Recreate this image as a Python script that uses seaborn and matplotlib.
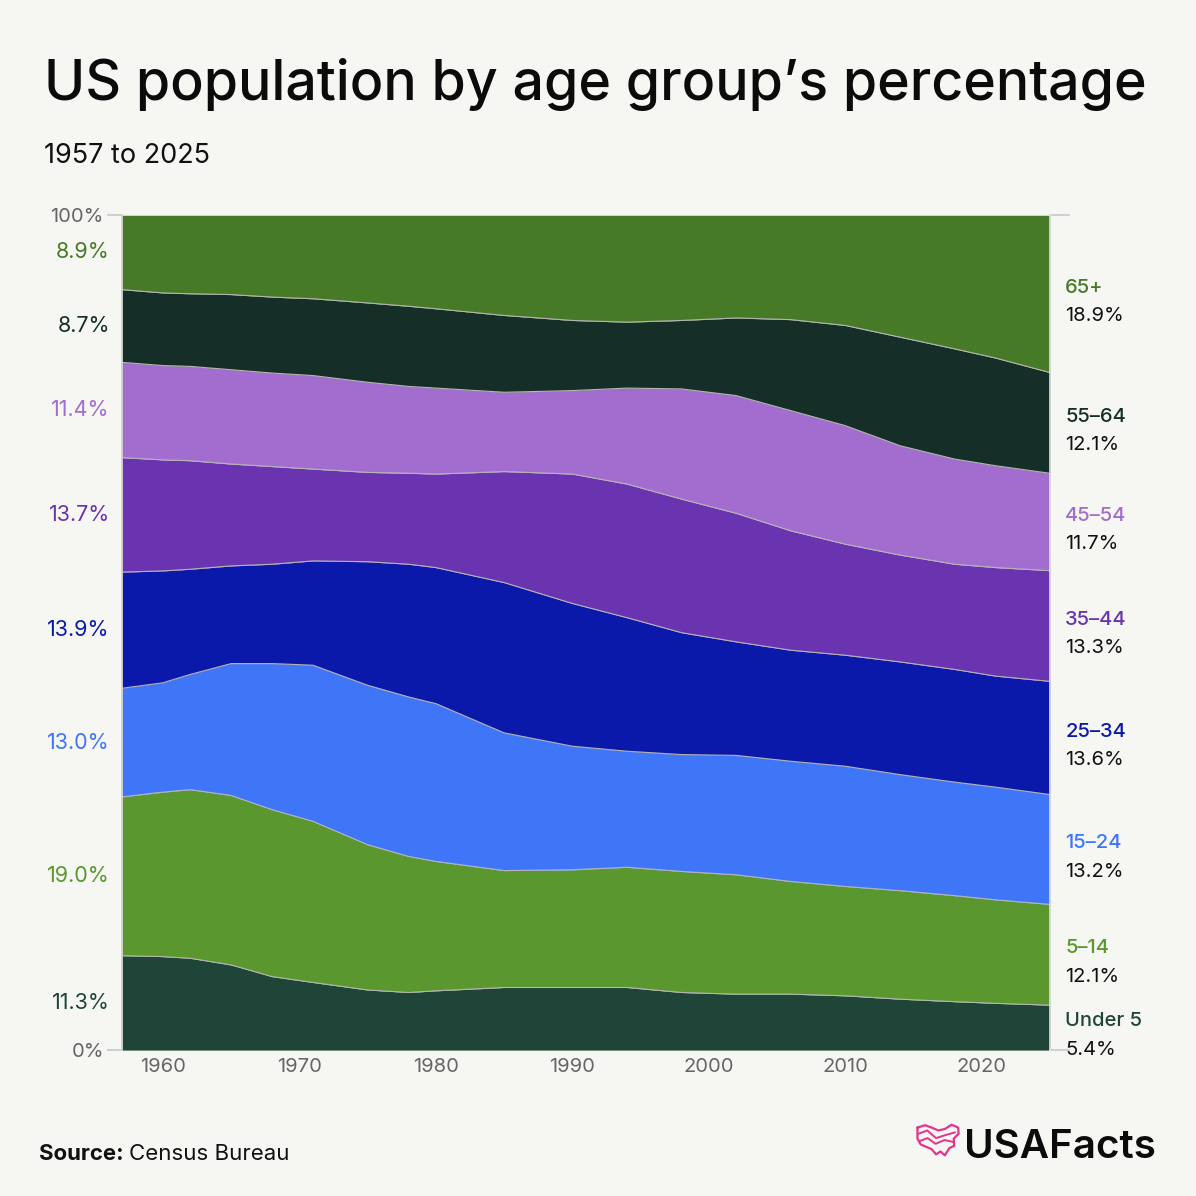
import matplotlib
matplotlib.use("Agg")
import numpy as np
import pandas as pd
import matplotlib.pyplot as plt
import seaborn as sns

# Data (% of population in each age group)
years = [1957, 1960, 1962, 1965, 1968, 1971, 1975, 1978, 1980, 1985,
         1990, 1994, 1998, 2002, 2006, 2010, 2014, 2018, 2021, 2025]

groups = ["Under 5", "5–14", "15–24", "25–34", "35–44", "45–54", "55–64", "65+"]

under_5 = [11.3, 11.2, 11.0, 10.2, 8.8, 8.1, 7.2, 6.9, 7.1, 7.5,
           7.5, 7.5, 6.9, 6.7, 6.7, 6.5, 6.1, 5.8, 5.6, 5.4]
age_5_14 = [19.0, 19.7, 20.2, 20.3, 20.0, 19.3, 17.4, 16.3, 15.5, 14.0,
            14.1, 14.4, 14.5, 14.3, 13.5, 13.1, 13.0, 12.7, 12.4, 12.1]
age_15_24 = [13.0, 13.1, 13.8, 15.8, 17.5, 18.7, 19.1, 19.1, 18.9, 16.5,
             14.8, 13.9, 14.0, 14.3, 14.4, 14.4, 13.9, 13.6, 13.5, 13.2]
age_25_34 = [13.9, 13.4, 12.6, 11.7, 11.9, 12.5, 14.8, 15.9, 16.3, 18.0,
             17.1, 16.0, 14.6, 13.6, 13.3, 13.3, 13.5, 13.5, 13.3, 13.6]
age_35_44 = [13.7, 13.3, 13.0, 12.2, 11.7, 11.0, 10.7, 10.9, 11.2, 13.3,
             15.5, 16.0, 16.0, 15.4, 14.3, 13.3, 12.8, 12.6, 13.0, 13.3]
age_45_54 = [11.4, 11.3, 11.3, 11.3, 11.2, 11.2, 10.8, 10.4, 10.3, 9.5,
             10.0, 11.5, 13.2, 14.1, 14.4, 14.2, 13.1, 12.6, 12.2, 11.7]
age_55_64 = [8.7, 8.7, 8.7, 9.0, 9.1, 9.2, 9.5, 9.6, 9.5, 9.2,
             8.4, 7.9, 8.2, 9.3, 10.9, 12.0, 13.0, 13.2, 12.9, 12.1]
age_65_plus = [8.9, 9.3, 9.4, 9.5, 9.8, 10.0, 10.5, 10.9, 11.2, 12.0,
               12.6, 12.8, 12.6, 12.3, 12.5, 13.2, 14.6, 16.0, 17.1, 18.9]

colors = ["#1E4538", "#5A982F", "#3F76F8", "#0A19AA",
          "#6A33B0", "#A36DCF", "#162E28", "#477A27"]

x_ticks = [1960, 1970, 1980, 1990, 2000, 2010, 2020]

BG = "#F6F6F2"
GREY = "#666666"


def main():
    sns.set_theme(style="white")
    plt.rcParams["font.family"] = ["Inter", "DejaVu Sans"]

    values = np.array([under_5, age_5_14, age_15_24, age_25_34,
                       age_35_44, age_45_54, age_55_64, age_65_plus])
    shares = values / values.sum(axis=0) * 100
    cum = np.cumsum(shares, axis=0)

    fig = plt.figure(figsize=(11.96, 11.96), dpi=100, facecolor=BG)
    ax = fig.add_axes([0.102, 0.122, 0.776, 0.698])
    ax.set_facecolor(BG)

    ax.stackplot(years, shares, colors=colors, linewidth=0)

    # thin separators between the bands
    long = pd.DataFrame({
        "year": np.tile(years, len(groups) - 1),
        "cum": cum[:-1].ravel(),
        "group": np.repeat(groups[:-1], len(years)),
    })
    sns.lineplot(data=long, x="year", y="cum", hue="group",
                 palette=["#B5B5B5"] * (len(groups) - 1),
                 linewidth=0.8, legend=False, ax=ax)

    ax.set_xlim(years[0], years[-1])
    ax.set_ylim(0, 100)
    ax.set_xlabel("")
    ax.set_ylabel("")

    ax.set_xticks(x_ticks)
    ax.set_xticklabels([str(t) for t in x_ticks])
    ax.set_yticks([0, 100])
    ax.set_yticklabels(["0%", "100%"])
    ax.tick_params(axis="x", length=0, labelsize=14.5, labelcolor=GREY, pad=6)
    ax.tick_params(axis="y", length=11, width=1.5, color="#D0D0D0",
                   labelsize=14.5, labelcolor=GREY, pad=2, left=True)

    for side in ["top", "bottom"]:
        ax.spines[side].set_visible(False)
    ax.spines["left"].set_color("#CFCFCF")
    ax.spines["right"].set_color("#E2E2E2")
    ax.spines["left"].set_linewidth(1.2)
    ax.spines["right"].set_linewidth(1.2)

    # grey rules at 0% and 100% that run past the right edge
    for yv in [0, 100]:
        ax.plot([1.0, 1.02], [yv, yv], transform=ax.get_yaxis_transform(),
                color="#D0D0D0", lw=1.5, clip_on=False)

    # left labels: 1957 share of each group
    lower = np.vstack([np.zeros(len(years)), cum[:-1]])
    for i, g in enumerate(groups):
        mid = (lower[i, 0] + cum[i, 0]) / 2
        ax.text(-0.013, mid, f"{values[i, 0]:.1f}%", transform=ax.get_yaxis_transform(),
                ha="right", va="center", fontsize=15.5, color=colors[i])

    # right labels: group name and 2025 share
    for i, g in enumerate(groups):
        mid = (lower[i, -1] + cum[i, -1]) / 2
        ax.annotate(g, xy=(1.0, mid), xycoords=ax.get_yaxis_transform(),
                    xytext=(11, 1), textcoords="offset points",
                    ha="left", va="baseline", fontsize=14.5, color=colors[i],
                    fontweight="medium", annotation_clip=False)
        ax.annotate(f"{values[i, -1]:.1f}%", xy=(1.0, mid), xycoords=ax.get_yaxis_transform(),
                    xytext=(11, -19.5), textcoords="offset points",
                    ha="left", va="baseline", fontsize=14.5, color="#111111",
                    annotation_clip=False)

    # titles
    fig.text(0.037, 0.916, "US population by age group’s percentage",
             fontsize=40, fontweight="medium", color="#0B0B0B", va="baseline")
    fig.text(0.037, 0.864, "1957 to 2025", fontsize=19.5, color="#111111", va="baseline")

    # source line
    src = fig.text(0.033, 0.03, "Source:", fontsize=16, fontweight="bold",
                   color="#111111", va="baseline")
    fig.canvas.draw()
    bb = src.get_window_extent(fig.canvas.get_renderer())
    fig.text(bb.x1 / fig.bbox.width + 0.004, 0.03, "Census Bureau", fontsize=16,
             color="#111111", va="baseline")

    # logo
    fig.text(0.806, 0.032, "USAFacts", fontsize=29, fontweight="semibold",
             color="#0B0B0B", va="baseline")
    logo = fig.add_axes([0.766, 0.03, 0.037, 0.032])
    logo.set_xlim(0, 10)
    logo.set_ylim(0, 8)
    logo.axis("off")
    logo.plot([0.3, 2, 3.5, 5, 6.5, 8, 9.5, 9.6, 8.5, 8.6, 7.5, 6.5, 5.5, 4.5, 3.5, 2.2, 1, 0.3, 0.3],
              [6.8, 7.3, 6.8, 6.2, 6.5, 7.4, 6.8, 5.5, 4.5, 3.0, 2.5, 1.0, 1.8, 1.2, 2.3, 2.8, 3.3, 4.5, 6.8],
              color="#E6338C", lw=1.6)
    logo.plot([0.5, 2.5, 4.5, 6.5, 8.8], [5.5, 6.2, 4.6, 5.2, 5.8], color="#E6338C", lw=1.4)
    logo.plot([0.8, 2.6, 4.4, 6.4, 8.4], [4.0, 4.6, 3.4, 4.2, 3.8], color="#E6338C", lw=1.4)

    fig.savefig("out.png", dpi=100, facecolor=BG)
    plt.close(fig)


if __name__ == "__main__":
    main()
